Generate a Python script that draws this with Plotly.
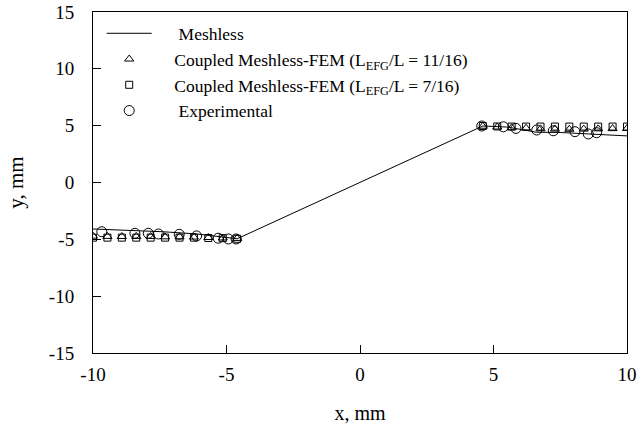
import plotly.graph_objects as go

# Meshless solution (line)
mesh_x = [-10.0, -9.0, -8.0, -7.4, -6.6, -6.1, -5.5, -5.0, -4.6, 4.6, 5.0, 5.5, 6.2, 6.6, 7.5, 8.5, 9.5, 10.0]
mesh_y = [-4.09, -4.17, -4.28, -4.33, -4.45, -4.53, -4.7, -4.85, -4.95, 4.97, 4.93, 4.88, 4.6, 4.42, 4.4, 4.3, 4.15, 4.1]

# Coupled Meshless-FEM, L_EFG/L = 11/16 (triangles)
tri_x = [-10.0, -9.46, -8.92, -8.38, -7.84, -7.3, -6.76, -6.22, -5.68, -5.14, -4.6,
         4.6, 5.14, 5.68, 6.22, 6.76, 7.3, 7.84, 8.38, 8.92, 9.46, 10.0]
tri_y = [-4.72, -4.74, -4.75, -4.74, -4.75, -4.78, -4.78, -4.8, -4.84, -4.88, -4.92,
         4.95, 4.88, 4.82, 4.78, 4.72, 4.7, 4.68, 4.7, 4.72, 4.74, 4.75]

# Coupled Meshless-FEM, L_EFG/L = 7/16 (squares)
sq_x = [-10.0, -9.46, -8.92, -8.38, -7.84, -7.3, -6.76, -6.22, -5.68, -5.14, -4.6,
        4.6, 5.14, 5.68, 6.22, 6.76, 7.3, 7.84, 8.38, 8.92, 9.46, 10.0]
sq_y = [-4.85, -4.85, -4.85, -4.85, -4.85, -4.85, -4.85, -4.85, -4.88, -4.9, -4.95,
        4.97, 4.93, 4.92, 4.92, 4.92, 4.92, 4.92, 4.92, 4.92, 4.92, 4.92]

# Experimental (circles)
exp_x = [-9.67, -8.43, -7.93, -7.55, -6.77, -6.12, -5.31, -4.93, -4.64,
         4.56, 5.37, 5.84, 6.62, 7.24, 8.05, 8.55, 8.86]
exp_y = [-4.33, -4.47, -4.47, -4.53, -4.56, -4.7, -4.9, -4.97, -4.97,
         4.97, 4.9, 4.76, 4.62, 4.55, 4.47, 4.27, 4.38]

x_ticks = [-10, -5, 0, 5, 10]
y_ticks = [-15, -10, -5, 0, 5, 10, 15]

NB = "\u00a0"
serif = "Liberation Serif, Times New Roman, serif"

fig = go.Figure()
fig.add_trace(go.Scatter(x=mesh_x, y=mesh_y, mode="lines",
                         line=dict(color="black", width=1),
                         name=NB * 5 + "Meshless"))
fig.add_trace(go.Scatter(x=tri_x, y=tri_y, mode="markers",
                         marker=dict(symbol="triangle-up-open", size=8, color="black",
                                     line=dict(width=1, color="black")),
                         name=NB * 4 + "Coupled Meshless-FEM (L<sub>EFG</sub>/L = 11/16)"))
fig.add_trace(go.Scatter(x=sq_x, y=sq_y, mode="markers",
                         marker=dict(symbol="square-open", size=7, color="black",
                                     line=dict(width=1, color="black")),
                         name=NB * 4 + "Coupled Meshless-FEM (L<sub>EFG</sub>/L = 7/16)"))
fig.add_trace(go.Scatter(x=exp_x, y=exp_y, mode="markers",
                         marker=dict(symbol="circle-open", size=10, color="black",
                                     line=dict(width=1, color="black")),
                         name=NB * 5 + "Experimental"))

fig.update_layout(
    width=637, height=426,
    margin=dict(l=93, r=10, t=12, b=73, autoexpand=False),
    paper_bgcolor="white", plot_bgcolor="white",
    font=dict(family=serif, size=18, color="black"),
    showlegend=True,
    legend=dict(x=0.0163, y=0.99, xanchor="left", yanchor="top",
                bgcolor="rgba(0,0,0,0)", borderwidth=0,
                font=dict(family=serif, size=17.5, color="black"),
                itemwidth=45, tracegroupgap=0),
    xaxis=dict(range=[-10, 10], tickvals=x_ticks, ticktext=[str(v) for v in x_ticks],
               ticks="inside", ticklen=8, ticklabelstandoff=4, ticklabeloverflow="allow",
               tickcolor="black", showline=True, linecolor="black", linewidth=1,
               mirror=True, showgrid=False, zeroline=False,
               title=dict(text="x, mm", font=dict(size=20), standoff=22),
               tickfont=dict(size=19)),
    yaxis=dict(range=[-15, 15], tickvals=y_ticks, ticktext=[str(v) for v in y_ticks],
               ticks="inside", ticklen=8, ticklabelstandoff=14, ticklabeloverflow="allow",
               tickcolor="black", showline=True, linecolor="black", linewidth=1,
               mirror=True, showgrid=False, zeroline=False,
               title=dict(text="y, mm", font=dict(size=21), standoff=19),
               tickfont=dict(size=19)),
)

fig.write_html("out.html", config={"displayModeBar": False},
               post_script="document.body.style.margin='0';")
